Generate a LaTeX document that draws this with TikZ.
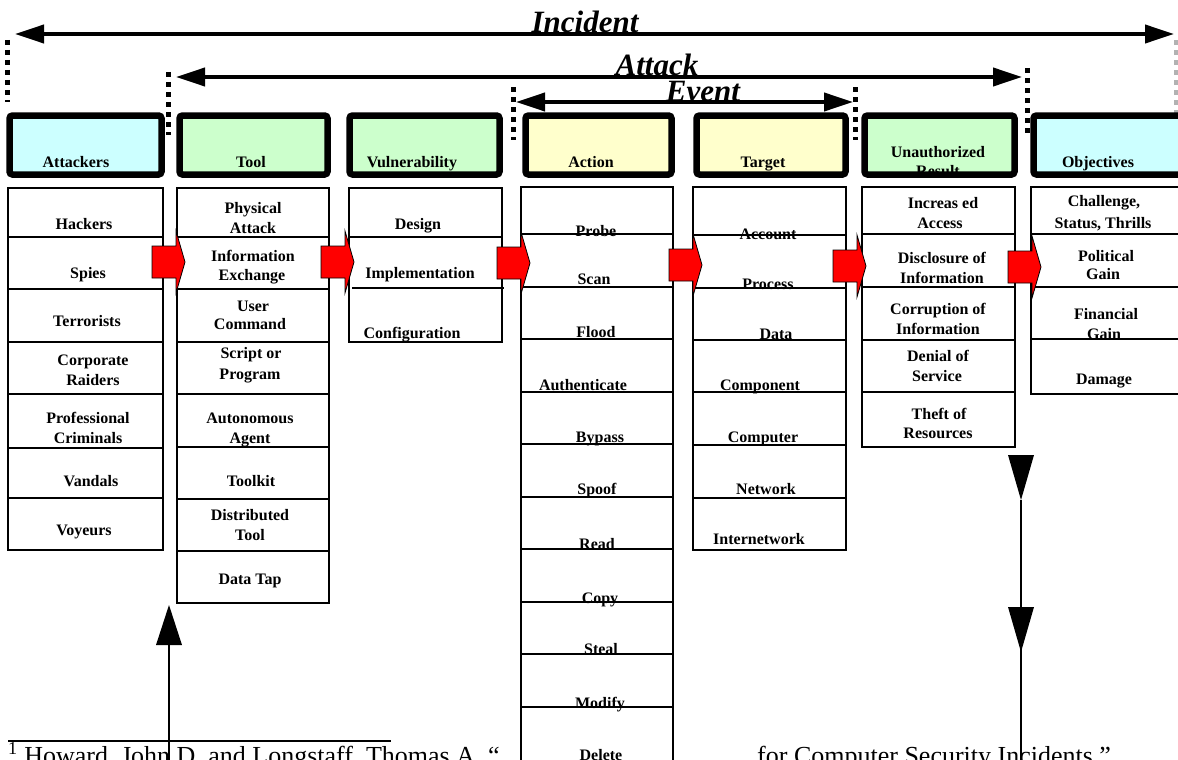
\documentclass[tikz,border=0pt]{standalone}
\usepackage{fontspec}
\setmainfont{Liberation Serif}
\usetikzlibrary{arrows.meta}
\definecolor{hcyan}{HTML}{CCFFFF}
\definecolor{hgreen}{HTML}{CCFFCC}
\definecolor{hyellow}{HTML}{FFFFCC}
\tikzset{
 lab/.style={anchor=base, inner sep=0pt, font=\fontsize{16}{19}\selectfont\bfseries},
 bigtxt/.style={inner sep=0pt, anchor=base, font=\fontsize{31}{36}\selectfont\bfseries\itshape},
 listbox/.style={draw=black, line width=1.2pt, fill=white},
 listline/.style={draw=black, line width=1.2pt},
 hdrfill/.style={rounded corners=3pt},
 hdrborder/.style={draw=black, line width=6.5pt, rounded corners=3pt},
 dotline/.style={line width=5pt, dash pattern=on 5pt off 5pt},
 bigarrow/.style={line width=4pt, {Triangle[length=29pt,width=18pt]}-{Triangle[length=29pt,width=18pt]}},
 redarrow/.style={fill=red, draw=black, line width=0.8pt, line join=miter},
 thinline/.style={line width=1.4pt},
 fnote/.style={inner sep=0pt, anchor=base west, font=\fontsize{26}{30}\selectfont},
}
\newcommand\lb[4]{\node[lab] (#1) at (#2,#3) {#4};}
\newcommand\redarr[3]{\coordinate (#1) at (#2,#3);
  \draw[redarrow] (#1) ++(0,-16) -- ++(24,0) -- ++(0,-15) -- ++(9,31) -- ++(-9,31) -- ++(0,-15) -- ++(-24,0) -- cycle;}
\begin{document}
\begin{tikzpicture}[x=1pt,y=-1pt]
\useasboundingbox (0,0) rectangle (1178,760);
\clip (0,0) rectangle (1178,760);
\fill[white] (0,0) rectangle (1178,760);

% ---------- top arrows ----------
\coordinate (incL) at (15,34); \coordinate (incR) at (1174,34);
\coordinate (attL) at (176,77); \coordinate (attR) at (1022,77);
\coordinate (evtL) at (516,102); \coordinate (evtR) at (853,102);
\draw[bigarrow] (incL) -- (incR);
\draw[bigarrow] (attL) -- (attR);
\draw[bigarrow] (evtL) -- (evtR);
\node[bigtxt] (incident) at (585,33) {Incident};
\node[bigtxt] (attack) at (657,75) {Attack};
\node[bigtxt] (event) at (703,101) {Event};

% ---------- dotted markers ----------
\coordinate (d1a) at (7,40);    \coordinate (d1b) at (7,102);
\coordinate (d2a) at (168.5,72); \coordinate (d2b) at (168.5,135);
\coordinate (d3a) at (513,87);  \coordinate (d3b) at (513,140);
\coordinate (d4a) at (855,87);  \coordinate (d4b) at (855,140);
\coordinate (d5a) at (1027,68); \coordinate (d5b) at (1027,135);
\coordinate (d6a) at (1176,40); \coordinate (d6b) at (1176,113);
\draw[dotline] (d1a) -- (d1b);
\draw[dotline] (d2a) -- (d2b);
\draw[dotline] (d3a) -- (d3b);
\draw[dotline] (d4a) -- (d4b);
\draw[dotline] (d5a) -- (d5b);
\draw[dotline, gray!60] (d6a) -- (d6b);

% ---------- header boxes ----------
\path[hdrfill, fill=hcyan]   (9.5,115.5) rectangle (161.5,174.5);
\path[hdrfill, fill=hgreen]  (179.5,115.5) rectangle (327.5,174.5);
\path[hdrfill, fill=hgreen]  (349.5,115.5) rectangle (499.5,174.5);
\path[hdrfill, fill=hyellow] (525.5,115.5) rectangle (671.5,174.5);
\path[hdrfill, fill=hyellow] (696.5,115.5) rectangle (845.5,174.5);
\path[hdrfill, fill=hgreen]  (864.5,115.5) rectangle (1014.5,174.5);
\path[hdrfill, fill=hcyan]   (1033.5,115.5) rectangle (1188,174.5);
\lb{hAtt}{76}{167}{Attackers}
\lb{hTool}{251}{167}{Tool}
\lb{hVul}{412}{167}{Vulnerability}
\lb{hAct}{591}{167}{Action}
\lb{hTar}{763}{167}{Target}
\lb{hUnA}{938}{157}{Unauthorized}
\begin{scope}
 \clip (864,112) rectangle (1015,171);
 \lb{hUnB}{938}{176}{Result}
\end{scope}
\lb{hObj}{1098}{167}{Objectives}
\draw[hdrborder] (9.5,115.5) rectangle (161.5,174.5);
\draw[hdrborder] (179.5,115.5) rectangle (327.5,174.5);
\draw[hdrborder] (349.5,115.5) rectangle (499.5,174.5);
\draw[hdrborder] (525.5,115.5) rectangle (671.5,174.5);
\draw[hdrborder] (696.5,115.5) rectangle (845.5,174.5);
\draw[hdrborder] (864.5,115.5) rectangle (1014.5,174.5);
\draw[hdrborder] (1033.5,115.5) rectangle (1188,174.5);

% ---------- list columns ----------
\draw[listbox] (8,188) rectangle (163,550);
\foreach \y in {237,289,342,394,448,498} \draw[listline] (8,\y) -- (163,\y);
\draw[listbox] (177,188) rectangle (329,603);
\foreach \y in {237,289,342,394,447,499,551} \draw[listline] (177,\y) -- (329,\y);
\draw[listbox] (349,188) rectangle (502,342);
\foreach \y in {237} \draw[listline] (349,\y) -- (502,\y);
\draw[listline] (352,288) -- (504,288);
\draw[listbox] (521,187) rectangle (673,760.5);
\foreach \y in {234,287,339,392,444,497,549,602,654,707} \draw[listline] (521,\y) -- (673,\y);
\draw[listbox] (693,187) rectangle (846,550);
\foreach \y in {235,288,340,392,445,498} \draw[listline] (693,\y) -- (846,\y);
\draw[listbox] (862,187) rectangle (1015,447);
\foreach \y in {234,287,340,392} \draw[listline] (862,\y) -- (1015,\y);
\draw[listbox] (1031,187) rectangle (1188,394);
\foreach \y in {234,287,339} \draw[listline] (1031,\y) -- (1188,\y);

% Attackers
\lb{a1}{84}{229}{Hackers}
\lb{a2}{88}{278}{Spies}
\lb{a3}{87}{326}{Terrorists}
\lb{a4}{93}{365}{Corporate}
\lb{a5}{93}{385}{Raiders}
\lb{a6}{88}{423}{Professional}
\lb{a7}{88}{443}{Criminals}
\lb{a8}{91}{486}{Vandals}
\lb{a9}{84}{535}{Voyeurs}
% Tool
\lb{t1}{253}{213}{Physical}
\lb{t2}{253}{233}{Attack}
\lb{t3}{253}{261}{Information}
\lb{t4}{252}{280}{Exchange}
\lb{t5}{253}{311}{User}
\lb{t6}{250}{329}{Command}
\lb{t7}{251}{358}{Script or}
\lb{t8}{250}{379}{Program}
\lb{t9}{250}{423}{Autonomous}
\lb{t10}{250}{443}{Agent}
\lb{t11}{251}{486}{Toolkit}
\lb{t12}{250}{520}{Distributed}
\lb{t13}{250}{540}{Tool}
\lb{t14}{250}{584}{Data Tap}
% Vulnerability
\lb{v1}{418}{229}{Design}
\lb{v2}{420}{278}{Implementation}
\lb{v3}{412}{338}{Configuration}
% Action
\lb{c1}{596}{236}{Probe}
\lb{c2}{594}{284}{Scan}
\lb{c3}{596}{337}{Flood}
\lb{c4}{583}{390}{Authenticate}
\lb{c5}{600}{442}{Bypass}
\lb{c6}{597}{494}{Spoof}
\lb{c7}{597}{549}{Read}
\lb{c8}{600}{603}{Copy}
\lb{c9}{601}{654}{Steal}
\lb{c10}{600}{708}{Modify}
\lb{c11}{601}{760}{Delete}
% Target
\lb{g1}{768}{239}{Account}
\lb{g2}{768}{289}{Process}
\lb{g3}{776}{339}{Data}
\lb{g4}{760}{390}{Component}
\lb{g5}{763}{442}{Computer}
\lb{g6}{766}{494}{Network}
\lb{g7}{759}{544}{Internetwork}
% Unauthorized Result
\lb{u1}{943}{208}{Increas ed}
\lb{u2}{940}{228}{Access}
\lb{u3}{942}{263}{Disclosure of}
\lb{u4}{942}{283}{Information}
\lb{u5}{938}{314}{Corruption of}
\lb{u6}{938}{334}{Information}
\lb{u7}{938}{361}{Denial of}
\lb{u8}{937}{381}{Service}
\lb{u9}{939}{419}{Theft of}
\lb{u10}{938}{438}{Resources}
% Objectives
\lb{o1}{1104}{206}{Challenge,}
\lb{o2}{1103}{228}{Status, Thrills}
\lb{o3}{1106}{261}{Political}
\lb{o4}{1103}{279}{Gain}
\lb{o5}{1106}{319}{Financial}
\lb{o6}{1104}{339}{Gain}
\lb{o7}{1104}{384}{Damage}

% ---------- red block arrows ----------
\redarr{r1}{152}{262}
\redarr{r2}{321}{262}
\redarr{r3}{497}{263}
\redarr{r4}{669}{265}
\redarr{r5}{833}{266}
\redarr{r6}{1008}{267}

% ---------- footnote ----------
\coordinate (fnL) at (8,741); \coordinate (fnR) at (391,741);
\draw[line width=1.5pt] (fnL) -- (fnR);
\node[fnote] (fn1) at (8,764) {\textsuperscript{1} Howard, John D. and Longstaff, Thomas A. “};
\node[fnote] (fn2) at (757,764) {for Computer Security Incidents.”};

% ---------- vertical arrows ----------
\coordinate (upTip) at (169,605);
\coordinate (upBase) at (169,645);
\coordinate (upEnd) at (169,770);
\fill (upTip) -- ++(-13,40) -- ++(26,0) -- cycle;
\draw[thinline] (upBase) -- (upEnd);
\coordinate (dnTip1) at (1021,500);
\coordinate (dnTip2) at (1021,652);
\coordinate (dnEnd) at (1021,770);
\fill (dnTip1) -- ++(-13,-45) -- ++(26,0) -- cycle;
\fill (dnTip2) -- ++(-13,-45) -- ++(26,0) -- cycle;
\draw[thinline] (dnTip1) -- (dnEnd);
\end{tikzpicture}
\end{document}
